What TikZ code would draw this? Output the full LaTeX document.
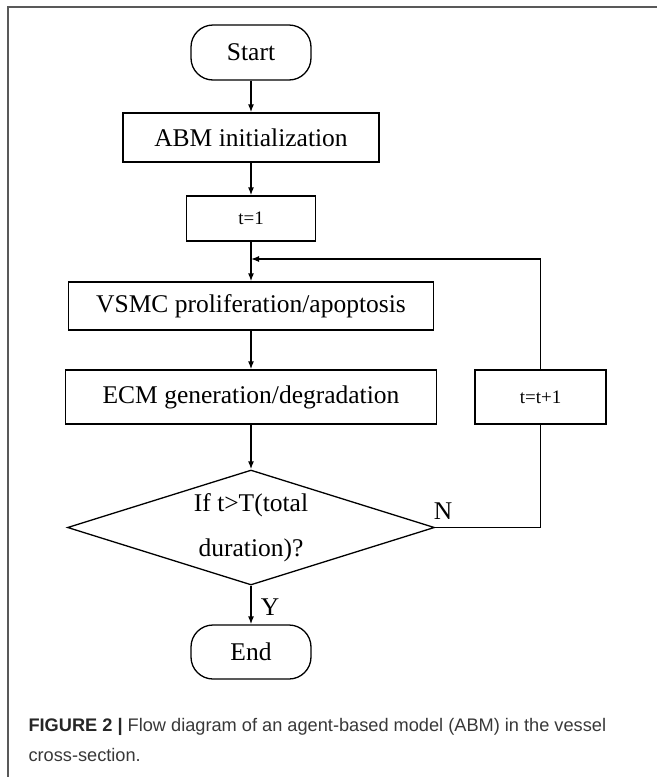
\documentclass[tikz,border=0pt]{standalone}
\usepackage{fontspec}
\setmainfont{Liberation Serif}
\newfontfamily\capfont{Liberation Sans}
\usepackage{tikz}
\usetikzlibrary{arrows.meta}
\usetikzlibrary{shapes.geometric}

\begin{document}
\begin{tikzpicture}[x=1pt,y=-1pt,>={Latex[length=8pt,width=6pt]},
        flow/.style={draw, line width=1.3pt, inner sep=0pt, font=\fontsize{25.5}{30}\selectfont},
        stepbox/.style={flow, rectangle},
        termbox/.style={flow, rectangle, rounded corners=22pt, minimum width=120, minimum height=55},
        smallbox/.style={flow, rectangle, font=\fontsize{19}{22}\selectfont},
        decision/.style={flow, diamond, aspect=3.2, minimum width=367, minimum height=115,
            align=center, font=\fontsize{25.5}{45}\selectfont},
        link/.style={line width=1.3pt}]
        \useasboundingbox (0,0) rectangle (657,777);
        \def\colx{251}

        % frame of the figure
        \draw[line width=1.6pt, black!65] (8,777) -- (8,7) -- (657,7);

        \node[termbox] (start) at (\colx,52.5) {Start};
        \node[stepbox, minimum width=256, minimum height=49] (abm) at (\colx,137.5) {ABM initialization};
        \node[smallbox, minimum width=129, minimum height=45] (tone) at (\colx,218.5) {t=1};
        \node[stepbox, minimum width=365, minimum height=48] (vsmc) at (\colx,306) {VSMC proliferation/apoptosis};
        \node[stepbox, minimum width=371, minimum height=54] (ecm) at (\colx,397) {ECM generation/degradation};
        \node[smallbox, minimum width=131, minimum height=54] (tnext) at (540.5,397) {t=t+1};
        \node[decision] (check) at (\colx,527.5) {If t>T(total\\duration)?};
        \node[termbox, minimum height=54] (finish) at (\colx,652) {End};
        \coordinate (join) at (\colx,259);

        \draw[link,->] (start) -- (abm);
        \draw[link,->] (abm) -- (tone);
        \draw[link,->] (tone) -- (vsmc);
        \draw[link,->] (vsmc) -- (ecm);
        \draw[link,->] (ecm) -- (check);
        \draw[link,->] (check) -- (finish);
        \draw[link] (check.east) -| (tnext.south);
        \draw[link,->] (tnext.north) |- (join);

        \node[font=\fontsize{25.5}{30}\selectfont] (no) at (443,511) {N};
        \node[font=\fontsize{25.5}{30}\selectfont] (yes) at (270,607) {Y};

        \node[anchor=base west, align=left, text=black!78, font={\capfont\fontsize{18.2}{30}\selectfont}] (caption) at (25,761)
            {{\bfseries\color{black!85}FIGURE 2 \textbar} Flow diagram of an agent-based model (ABM) in the vessel\\cross-section.};
    \end{tikzpicture}
\end{document}
